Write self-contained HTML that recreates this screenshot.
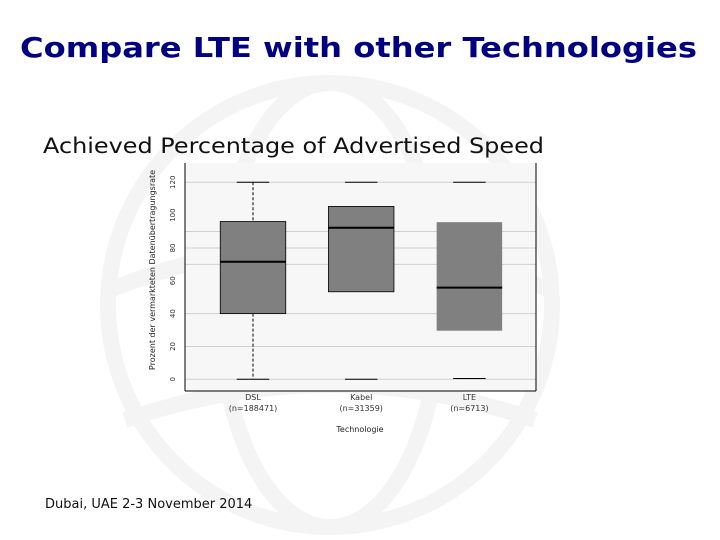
<!DOCTYPE html>
<html><head><meta charset="utf-8"><style>
html,body{margin:0;padding:0;background:#fff;width:720px;height:540px;overflow:hidden;}
svg{display:block;font-family:"DejaVu Sans","Liberation Sans",sans-serif;}
</style></head><body>
<svg id="s" width="720" height="540" viewBox="0 0 720 540">
<g fill="none" stroke="#f4f4f4" stroke-width="16">
<circle cx="330" cy="305" r="222"/>
<ellipse cx="330" cy="305" rx="110" ry="222"/>
<path d="M110 290 Q330 200 550 290"/>
<path d="M125 420 Q330 350 535 420"/>
</g>
<text x="20" y="57" font-size="28" font-weight="bold" fill="#000080" textLength="677" lengthAdjust="spacingAndGlyphs">Compare LTE with other Technologies</text>
<text x="43" y="153" font-size="21" fill="#111" textLength="501" lengthAdjust="spacingAndGlyphs">Achieved Percentage of Advertised Speed</text>
<text x="45" y="508" font-size="13" fill="#111">Dubai, UAE 2-3 November 2014</text>
<rect x="185" y="163" width="351" height="228" fill="#f7f7f7"/>
<g id="chart"></g>
<line x1="185" y1="163" x2="185" y2="391" stroke="#000"/>
<line x1="185" y1="391" x2="536" y2="391" stroke="#000"/>
<line x1="536" y1="163" x2="536" y2="391" stroke="#000"/>
<text transform="translate(155,270) rotate(-90)" font-size="8" text-anchor="middle" fill="#222">Prozent der vermarkteten Datenübertragungsrate</text>
<text x="360" y="432" font-size="8" text-anchor="middle" fill="#222">Technologie</text>
</svg>
<script>
const categories = ["DSL","Kabel","LTE"];
const counts = ["(n=188471)","(n=31359)","(n=6713)"];
const whiskerLow = [0,0,0.5];
const q1 = [40,53.3,29.6];
const median = [71.6,92.3,55.8];
const q3 = [96.1,105.3,95.7];
const whiskerHigh = [120,120,120];
const yTicks = [0,20,40,60,80,100,120];
const gridVals = [0,20,40,70,80,90,120];
const g = document.getElementById('chart');
const NS = "http://www.w3.org/2000/svg";
const y = v => 379.3 - v*1.642;
const xc = i => 253 + i*108.2;
const bw = 65.5, cw = 32.5;
function mk(t, a){const e=document.createElementNS(NS,t);for(const k in a)e.setAttribute(k,a[k]);g.appendChild(e);return e;}
gridVals.forEach(v=>{
  const l=mk('line',{x1:185,x2:536,y1:y(v),y2:y(v),stroke:'#cfcfcf','stroke-width':1});
  
  
});
yTicks.forEach(v=>{
  const t=mk('text',{transform:`translate(175,${y(v)}) rotate(-90)`,'font-size':7,'text-anchor':'middle',fill:'#333'});
  t.textContent=v;
  
  
});
categories.forEach((c,i)=>{
  const x=xc(i);
  if(i==0){
    const w1=mk('line',{x1:x,x2:x,y1:y(whiskerHigh[i]),y2:y(q3[i]),stroke:'#000','stroke-dasharray':'3,2'});
    
    
    const w2=mk('line',{x1:x,x2:x,y1:y(q1[i]),y2:y(whiskerLow[i]),stroke:'#000','stroke-dasharray':'3,2'});
    
    
  }
  [whiskerHigh[i],whiskerLow[i]].forEach(v=>{
    const cp=mk('line',{x1:x-cw/2,x2:x+cw/2,y1:y(v),y2:y(v),stroke:'#000'});
    
    
  });
  const b=mk('rect',{x:x-bw/2,y:y(q3[i]),width:bw,height:y(q1[i])-y(q3[i]),fill:'#808080',stroke:'#000','stroke-width':i==2?0:0.8});
  
  
  const m=mk('line',{x1:x-bw/2,x2:x+bw/2,y1:y(median[i]),y2:y(median[i]),stroke:'#000','stroke-width':2});
  
  
  const t1=mk('text',{x:x,y:400,'font-size':8,'text-anchor':'middle',fill:'#333'});
  t1.textContent=c;
  
  
  const t2=mk('text',{x:x,y:411,'font-size':8,'text-anchor':'middle',fill:'#333'});
  t2.textContent=counts[i];
  
  
});
</script>
</body></html>
